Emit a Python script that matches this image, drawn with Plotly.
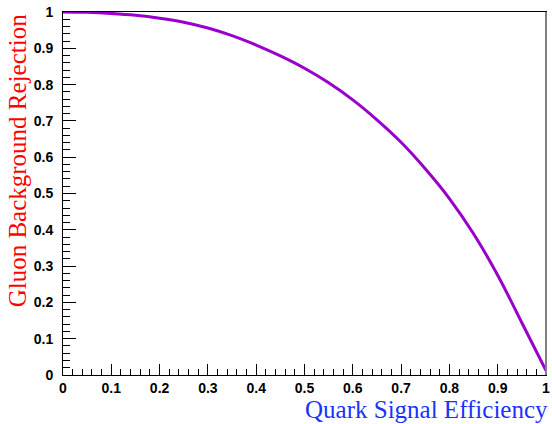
import plotly.graph_objects as go

# Data
signal_eff = [0.0, 0.05, 0.1, 0.15, 0.2, 0.25, 0.3, 0.35, 0.4, 0.45, 0.5, 0.55, 0.6,
              0.65, 0.7, 0.75, 0.8, 0.85, 0.9, 0.95, 1.0]
bkg_rej = [1.0, 0.999, 0.996, 0.991, 0.983, 0.972, 0.956, 0.935, 0.909, 0.879, 0.845,
           0.805, 0.758, 0.703, 0.641, 0.568, 0.486, 0.389, 0.275, 0.144, 0.012]

x_title = "Quark Signal Efficiency"
y_title = "Gluon Background Rejection"

fig = go.Figure()
fig.add_trace(go.Scatter(
    x=signal_eff, y=bkg_rej, mode="lines",
    line=dict(color="rgb(153,0,204)", width=3, shape="spline", smoothing=1.0),
    showlegend=False, cliponaxis=False,
))

tickfont = dict(family="Liberation Sans, Arial, sans-serif", size=14, color="black",
                weight="bold")

fig.update_layout(
    width=552, height=424,
    margin=dict(l=63, r=6, t=12, b=49),
    paper_bgcolor="white", plot_bgcolor="white",
    xaxis=dict(
        range=[0, 1], dtick=0.1, automargin=False,
        ticks="inside", ticklen=11, tickwidth=1, tickcolor="black",
        minor=dict(dtick=0.02, ticks="inside", ticklen=6, tickcolor="black", showgrid=False),
        showgrid=False, zeroline=False,
        showline=True, linecolor="black", linewidth=1, mirror=True,
        tickfont=tickfont, tickangle=0,
    ),
    yaxis=dict(
        range=[0, 1], dtick=0.1, automargin=False,
        ticks="inside", ticklen=13, tickwidth=1, tickcolor="black",
        minor=dict(dtick=0.02, ticks="inside", ticklen=7, tickcolor="black", showgrid=False),
        showgrid=False, zeroline=False,
        showline=True, linecolor="black", linewidth=1, mirror=True,
        tickfont=tickfont, ticklabelstandoff=6,
    ),
    annotations=[
        dict(text=x_title, xref="paper", yref="paper", x=1.008, y=-0.094,
             xanchor="right", yanchor="middle", showarrow=False,
             font=dict(family="Liberation Serif, Times New Roman, serif", size=25,
                       color="rgb(25,50,255)")),
        dict(text=y_title, xref="paper", yref="paper", x=-0.095, y=0.998,
             xanchor="center", yanchor="top", textangle=-90, showarrow=False,
             font=dict(family="Liberation Serif, Times New Roman, serif", size=25,
                       color="rgb(255,0,0)")),
    ],
    shapes=[
        dict(type="line", xref="paper", yref="paper", x0=1, x1=1, y0=0, y1=1,
             line=dict(color="gray", width=2)),
    ],
)

fig.write_html("out.html", config={"displayModeBar": False},
               post_script="document.body.style.margin='0';document.body.style.padding='0';")
